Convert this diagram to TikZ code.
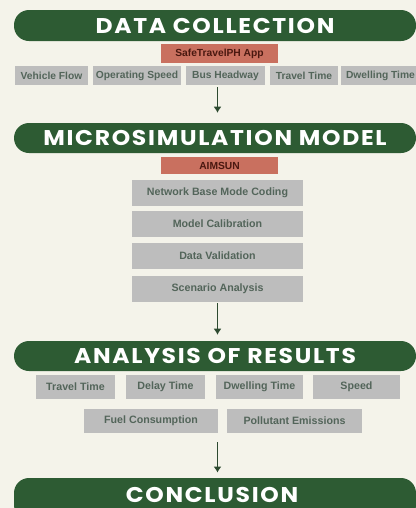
\documentclass[tikz,border=0pt]{standalone}
\usepackage{fontspec}
\setmainfont{Liberation Sans}
\newfontfamily\bannerfont{Poppins}[FakeStretch=1.1, LetterSpace=8]
\usetikzlibrary{arrows.meta}
\definecolor{bg}{HTML}{F4F3EA}
\definecolor{bgreen}{HTML}{2D5B33}
\definecolor{boxgray}{HTML}{BDBDBD}
\definecolor{salmon}{HTML}{C9705F}
\definecolor{boxtext}{HTML}{53655A}
\definecolor{apptext}{HTML}{4A1810}
\definecolor{arrowgreen}{HTML}{2D4A30}
\tikzset{
  bannerbg/.style={fill=bgreen, rounded corners=15*0.75pt},
  banner/.style={bannerbg, text=white, inner sep=0pt,
    font=\bannerfont\bfseries\fontsize{16pt}{18pt}\selectfont},
  bannertext/.style={text=white, inner sep=0pt,
    font=\bannerfont\bfseries\fontsize{16pt}{18pt}\selectfont},
  toolbox/.style={fill=salmon, inner sep=0pt, text=apptext,
    font=\bfseries\fontsize{7.7pt}{9pt}\selectfont},
  graybox/.style={fill=boxgray, inner sep=0pt, text=boxtext,
    font=\bfseries\fontsize{8pt}{9pt}\selectfont},
  smallgray/.style={graybox, font=\bfseries\fontsize{7.7pt}{9pt}\selectfont},
  arr/.style={draw=arrowgreen, line width=1.4pt, -{Latex[length=4.5pt,width=6pt]}}
}
\begin{document}
\begin{tikzpicture}[x=0.75pt,y=-0.75pt]
\useasboundingbox (0,0) rectangle (416,508);
\fill[bg] (0,0) rectangle (416,508);
\begin{scope}
\clip (0,0) rectangle (416,508);
% Banners
\node[banner, minimum width=402*0.75pt, minimum height=31*0.75pt] (dc) at (215,25.5) {DATA COLLECTION};
\node[banner, minimum width=402*0.75pt, minimum height=30*0.75pt] (mm) at (215,138) {MICROSIMULATION MODEL};
\node[banner, minimum width=402*0.75pt, minimum height=30*0.75pt] (ar) at (215,356) {ANALYSIS OF RESULTS};
\fill[bannerbg] (14,478) rectangle (416,520);
\node[bannertext] (cc) at (212,494.5) {CONCLUSION};
% Data collection
\node[toolbox, minimum width=117*0.75pt, minimum height=19*0.75pt] (app) at (219.5,53.5) {SafeTravelPH App};
\node[smallgray, minimum width=73*0.75pt, minimum height=19*0.75pt] (vf) at (51.5,75.5) {Vehicle Flow};
\node[smallgray, minimum width=88*0.75pt, minimum height=19*0.75pt] (os) at (137,75.5) {Operating Speed};
\node[smallgray, minimum width=79*0.75pt, minimum height=19*0.75pt] (bh) at (225.5,75.5) {Bus Headway};
\node[smallgray, minimum width=68*0.75pt, minimum height=19*0.75pt] (tt) at (304,75.5) {Travel Time};
\node[smallgray, minimum width=79*0.75pt, minimum height=19*0.75pt] (dw) at (380.5,75.5) {Dwelling Time};
% Microsimulation
\node[toolbox, minimum width=117*0.75pt, minimum height=17*0.75pt] (aim) at (219.5,165.5) {AIMSUN};
\node[graybox, minimum width=171*0.75pt, minimum height=26*0.75pt] (nb) at (217.5,193) {Network Base Mode Coding};
\node[graybox, minimum width=171*0.75pt, minimum height=26*0.75pt] (mc) at (217.5,224) {Model Calibration};
\node[graybox, minimum width=171*0.75pt, minimum height=26*0.75pt] (dv) at (217.5,256) {Data Validation};
\node[graybox, minimum width=171*0.75pt, minimum height=26*0.75pt] (sa) at (217.5,289) {Scenario Analysis};
% Analysis of results
\node[graybox, minimum width=79*0.75pt, minimum height=24*0.75pt] (rtt) at (75.5,387) {Travel Time};
\node[graybox, minimum width=79*0.75pt, minimum height=24*0.75pt] (rdt) at (165.5,387) {Delay Time};
\node[graybox, minimum width=87*0.75pt, minimum height=24*0.75pt] (rdw) at (259.5,387) {Dwelling Time};
\node[graybox, minimum width=87*0.75pt, minimum height=24*0.75pt] (rsp) at (356.5,387) {Speed};
\node[graybox, minimum width=134*0.75pt, minimum height=24*0.75pt] (rfc) at (151,421) {Fuel Consumption};
\node[graybox, minimum width=135*0.75pt, minimum height=24*0.75pt] (rpe) at (294.5,421) {Pollutant Emissions};
% Arrows
\draw[arr, shorten <=2*0.75pt, shorten >=10*0.75pt] (bh.south -| nb.center) -- (mm.north -| nb.center);
\draw[arr, shorten <=1*0.75pt, shorten >=6*0.75pt] (sa.south) -- (ar.north -| sa.south);
\draw[arr, shorten <=9*0.75pt, shorten >=14*0.75pt] (rfc.south -| sa.center) -- (cc.north -| sa.center);
\end{scope}
\end{tikzpicture}
\end{document}
